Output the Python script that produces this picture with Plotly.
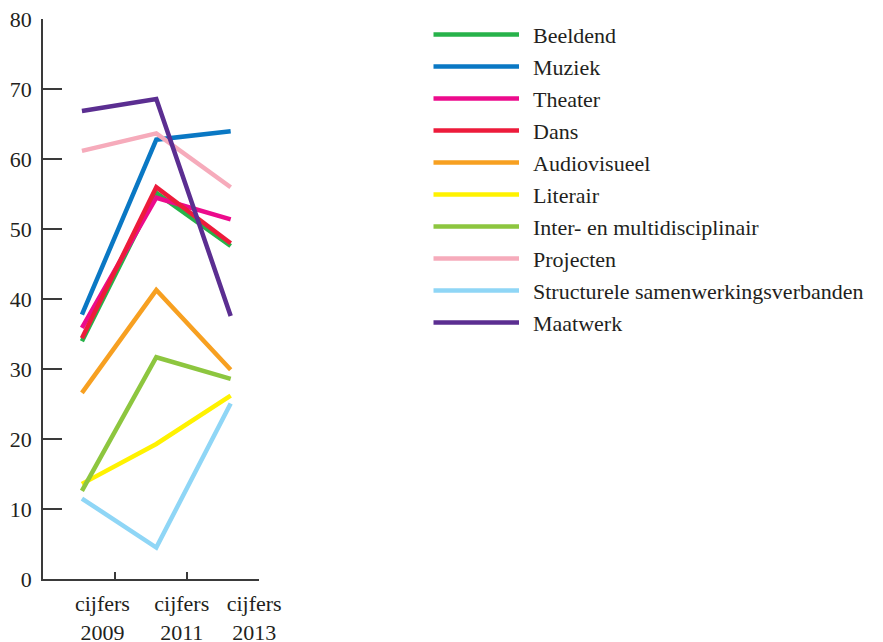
import plotly.graph_objects as go

years = [2009, 2011, 2013]
category_labels = ["cijfers<br>2009", "cijfers<br>2011", "cijfers<br>2013"]

series_names = ["Beeldend", "Muziek", "Theater", "Dans", "Audiovisueel", "Literair",
                "Inter- en multidisciplinair", "Projecten",
                "Structurele samenwerkingsverbanden", "Maatwerk"]

beeldend = [34.0, 55.2, 47.6]
muziek = [37.8, 62.8, 64.0]
theater = [35.9, 54.5, 51.4]
dans = [34.4, 56.0, 48.0]
audiovisueel = [26.6, 41.3, 29.9]
literair = [13.6, 19.3, 26.2]
inter = [12.6, 31.7, 28.6]
projecten = [61.2, 63.7, 56.0]
structurele = [11.5, 4.5, 25.1]
maatwerk = [66.9, 68.6, 37.6]

series_values = [beeldend, muziek, theater, dans, audiovisueel, literair,
                 inter, projecten, structurele, maatwerk]

y_ticks = [0, 10, 20, 30, 40, 50, 60, 70, 80]

colors = ["#27b24a", "#0a78c4", "#ec0b8c", "#ed1b3b", "#f7a021", "#fff200",
          "#8dc63f", "#f6abbb", "#8fd6f6", "#5b2e91"]

FONT = "Liberation Serif"
FS = 22
TXT = "#231f20"
AX = "#3a3a3a"

# page body has an 8px margin; compensate so the page matches the target
OFF = 8
W, H = 883 - OFF, 642 - OFF

fig = go.Figure()
for name, vals, col in zip(series_names, series_values, colors):
    fig.add_trace(go.Scatter(x=years, y=vals, mode="lines", name=name,
                             line=dict(color=col, width=4.5), showlegend=False))

ml, mr, mt, mb = 43 - OFF, 0, 19 - OFF, 63
pw = W - ml - mr
plot_w = 216
dom_end = plot_w / pw

px_per_year = 37.25
x0 = 2009 - 39 / px_per_year
x1 = x0 + plot_w / px_per_year
tick_px = [115, 187, 259]
label_px = [102.5, 182, 254.5]
tick_vals = [x0 + (p - 43) / px_per_year for p in tick_px]
label_vals = [x0 + (p - 43) / px_per_year for p in label_px]

fig.update_layout(
    width=W, height=H,
    margin=dict(l=ml, r=mr, t=mt, b=mb, autoexpand=False),
    paper_bgcolor="white", plot_bgcolor="white",
    font=dict(family=FONT, size=FS, color=TXT),
    xaxis=dict(domain=[0, dom_end], range=[x0, x1 + 0.01], showgrid=False, zeroline=False,
               showline=True, linecolor=AX, linewidth=1.5, automargin=False,
               tickmode="array", tickvals=tick_vals, ticktext=["", "", ""],
               ticks="inside", ticklen=7, tickwidth=1.5, tickcolor=AX),
    xaxis2=dict(domain=[0, dom_end], range=[x0, x1 + 0.01], overlaying="x", side="bottom",
                anchor="y", showgrid=False, zeroline=False, showline=False,
                automargin=False, ticklabeloverflow="allow",
                tickmode="array", tickvals=label_vals, ticktext=category_labels,
                ticks="", tickfont=dict(family=FONT, size=FS, color=TXT),
                ticklabelstandoff=9),
    yaxis=dict(range=[0, 80.05], showgrid=False, zeroline=False, automargin=False,
               showline=True, linecolor=AX, linewidth=1.5, ticklabeloverflow="allow",
               tickmode="array", tickvals=y_ticks,
               ticks="inside", ticklen=19, tickwidth=1.5, tickcolor=AX,
               tickfont=dict(family=FONT, size=FS, color=TXT),
               ticklabelstandoff=5),
)

# dummy trace to activate xaxis2
fig.add_trace(go.Scatter(x=[None], y=[None], xaxis="x2", yaxis="y", showlegend=False,
                         hoverinfo="skip"))

# custom legend (positions given in target-page pixels)
def px_x(p):
    return (p - OFF - ml) / pw

def px_y(p):
    return 1 - (p - OFF - mt) / (H - mt - mb)

row0, row_step = 34.5, 32
for i, (name, col) in enumerate(zip(series_names, colors)):
    yy = row0 + i * row_step
    fig.add_shape(type="line", xref="paper", yref="paper",
                  x0=px_x(433.5), x1=px_x(519), y0=px_y(yy), y1=px_y(yy),
                  line=dict(color=col, width=4.5))
    fig.add_annotation(xref="paper", yref="paper", x=px_x(531), y=px_y(yy + 1),
                       text=name, showarrow=False, xanchor="left", yanchor="middle",
                       font=dict(family=FONT, size=FS, color=TXT))

fig.write_html("out.html")
